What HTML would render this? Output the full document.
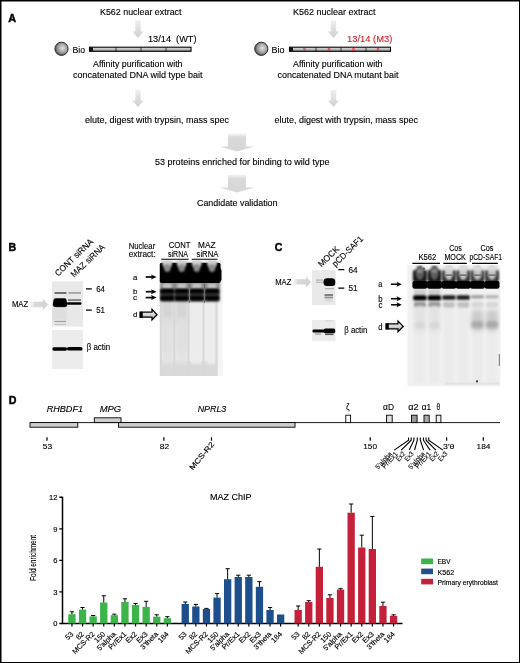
<!DOCTYPE html>
<html><head><meta charset="utf-8"><title>Figure</title>
<style>
html,body{margin:0;padding:0;background:#fff;}
svg{display:block;}
text{font-family:"Liberation Sans",sans-serif;fill:#000;stroke:#000;stroke-width:0.12px;}
.t{font-size:8.7px;}
.m{font-size:8.4px;}
.s{font-size:6.9px;stroke-width:0.1px;}
.l{font-size:8.1px;}
.x{font-size:7.5px;stroke-width:0.15px;}
.b{font-size:10.6px;font-weight:bold;stroke-width:0.45px;}
.i{font-style:italic;}
</style></head><body>
<svg width="520" height="663" viewBox="0 0 520 663">
<defs>
<radialGradient id="sph" cx="0.58" cy="0.45" r="0.62"><stop offset="0" stop-color="#e4e4e4"/><stop offset="0.55" stop-color="#a0a0a0"/><stop offset="1" stop-color="#444"/></radialGradient>
<linearGradient id="bar" x1="0" y1="0" x2="0" y2="1"><stop offset="0" stop-color="#eee"/><stop offset="1" stop-color="#888"/></linearGradient>
<linearGradient id="ga" x1="0" y1="0" x2="0" y2="1"><stop offset="0" stop-color="#efefef"/><stop offset="1" stop-color="#cecece"/></linearGradient>
<filter id="b1" x="-50%" y="-50%" width="200%" height="200%"><feGaussianBlur stdDeviation="1"/></filter>
<filter id="b2" x="-50%" y="-50%" width="200%" height="200%"><feGaussianBlur stdDeviation="2"/></filter>
<filter id="b05" x="-50%" y="-50%" width="200%" height="200%"><feGaussianBlur stdDeviation="0.5"/></filter>
<linearGradient id="ga2" x1="0" y1="0" x2="0" y2="1"><stop offset="0" stop-color="#efefef"/><stop offset="0.14" stop-color="#e6e6e6"/><stop offset="0.16" stop-color="#dadada"/><stop offset="1" stop-color="#d6d6d6"/></linearGradient>
<filter id="b03" x="-50%" y="-50%" width="200%" height="200%"><feGaussianBlur stdDeviation="0.35"/></filter>
<filter id="b07" x="-50%" y="-50%" width="200%" height="200%"><feGaussianBlur stdDeviation="0.7"/></filter>
<filter id="b15" x="-50%" y="-50%" width="200%" height="200%"><feGaussianBlur stdDeviation="1.5"/></filter>
<filter id="b3" x="-50%" y="-50%" width="200%" height="200%"><feGaussianBlur stdDeviation="3"/></filter>
<linearGradient id="gh" x1="0" y1="0" x2="1" y2="0"><stop offset="0" stop-color="#eeeeee"/><stop offset="0.18" stop-color="#e6e6e6"/><stop offset="0.22" stop-color="#d8d8d8"/><stop offset="1" stop-color="#d3d3d3"/></linearGradient>
<linearGradient id="oa" x1="0" y1="0" x2="0" y2="1"><stop offset="0" stop-color="#fff"/><stop offset="1" stop-color="#aaa"/></linearGradient>
<marker id="ah" markerWidth="4" markerHeight="5" refX="0.5" refY="2.5" orient="auto" markerUnits="userSpaceOnUse"><path d="M0 0 L4 2.5 L0 5z" fill="#000"/></marker>
<clipPath id="cB1"><rect x="52" y="281.6" width="31" height="45"/></clipPath>
<clipPath id="cB2"><rect x="52" y="330" width="31" height="39"/></clipPath>
<clipPath id="cB3"><rect x="159.4" y="260.5" width="63.6" height="115.5"/></clipPath>
<clipPath id="cC1"><rect x="312" y="270" width="23.500" height="35"/></clipPath>
<clipPath id="cC2"><rect x="312" y="320" width="23.500" height="21"/></clipPath>
<clipPath id="cC3"><rect x="407.5" y="265.3" width="93" height="121"/></clipPath>
</defs>
<rect x="0" y="0" width="520" height="663" fill="#fff"/>
<!-- PANEL A -->
<g id="panelA">
<text class="b" x="8.3" y="21.600" textLength="7.800" lengthAdjust="spacingAndGlyphs">A</text>
<text class="t" x="100" y="15.2" textLength="81.5" lengthAdjust="spacingAndGlyphs">K562 nuclear extract</text>
<path d="M135.3 20.500 h5.400 v11 h2.800 l-5.500 6.500 l-5.500 -6.500 h2.800z" fill="url(#ga)"/>
<text class="t" x="148" y="41.6" textLength="48.500" lengthAdjust="spacingAndGlyphs" style="white-space:pre">13/14  (WT)</text>
<circle cx="61.5" cy="48.8" r="6.6" fill="url(#sph)" stroke="#2a2a2a" stroke-width="1"/>
<text class="t" x="72.5" y="52.6" textLength="12.5" lengthAdjust="spacingAndGlyphs">Bio</text>
<rect x="89.5" y="47.2" width="101.5" height="4.1" fill="url(#bar)" stroke="#000" stroke-width="1.1"/>
<rect x="89.5" y="47.2" width="3.5" height="4.1" fill="#111"/>
<path d="M116 47.2v4.1M141 47.2v4.1M166 47.2v4.1" stroke="#111" stroke-width="0.8"/>
<text class="t" x="93" y="66.9" textLength="89.5" lengthAdjust="spacingAndGlyphs">Affinity purification with</text>
<text class="t" x="73" y="78" textLength="129.5" lengthAdjust="spacingAndGlyphs">concatenated DNA wild type bait</text>
<path d="M135.3 90 h5.400 v10.500 h2.800 l-5.500 6.500 l-5.500 -6.500 h2.800z" fill="url(#ga)"/>
<text class="t" x="85" y="122.6" textLength="144" lengthAdjust="spacingAndGlyphs">elute, digest with trypsin, mass spec</text>

<text class="t" x="293" y="15.2" textLength="82.5" lengthAdjust="spacingAndGlyphs">K562 nuclear extract</text>
<path d="M330.800 20.500 h5.400 v11 h2.800 l-5.500 6.500 l-5.500 -6.500 h2.800z" fill="url(#ga)"/>
<text class="t" x="347" y="41.6" style="fill:#d2232a;stroke:#d2232a" textLength="45.3" lengthAdjust="spacingAndGlyphs">13/14 (M3)</text>
<circle cx="261.3" cy="48.8" r="6.6" fill="url(#sph)" stroke="#2a2a2a" stroke-width="1"/>
<text class="t" x="271.6" y="52.6" textLength="13" lengthAdjust="spacingAndGlyphs">Bio</text>
<rect x="289.5" y="47.2" width="101" height="4.1" fill="url(#bar)" stroke="#000" stroke-width="1.1"/>
<rect x="289.5" y="47.2" width="3.5" height="4.1" fill="#111"/>
<path d="M316 47.2v4.1M341 47.2v4.1M366 47.2v4.1" stroke="#111" stroke-width="0.8"/>
<path d="M302.9 47.6l3.2 3.4M306.1 47.6l-3.2 3.4M327.4 47.6l3.2 3.4M330.6 47.6l-3.2 3.4M351.9 47.6l3.2 3.4M355.1 47.6l-3.2 3.4M376.4 47.6l3.2 3.4M379.6 47.6l-3.2 3.4" stroke="#d2232a" stroke-width="0.8"/>
<text class="t" x="293" y="66.9" textLength="89.5" lengthAdjust="spacingAndGlyphs">Affinity purification with</text>
<text class="t" x="277.500" y="78" textLength="121" lengthAdjust="spacingAndGlyphs">concatenated DNA mutant bait</text>
<path d="M330.800 90 h5.400 v10.500 h2.800 l-5.500 6.500 l-5.500 -6.500 h2.800z" fill="url(#ga)"/>
<text class="t" x="274.500" y="122.6" textLength="143.500" lengthAdjust="spacingAndGlyphs">elute, digest with trypsin, mass spec</text>

<path d="M228 133.800 h18 v12.700 h8.500 l-17.500 5 l-17.500 -5 h8.500z" fill="url(#ga2)"/>
<text class="t" x="155" y="164.8" textLength="174.500" lengthAdjust="spacingAndGlyphs">53 proteins enriched for binding to wild type</text>
<path d="M228 175 h18 v12.600 h8.500 l-17.500 4.800 l-17.500 -4.800 h8.500z" fill="url(#ga2)"/>
<text class="t" x="197" y="205.8" textLength="80.500" lengthAdjust="spacingAndGlyphs">Candidate validation</text>
</g>
<!-- panelB -->
<g id="panelB">
<text class="b" x="8.4" y="251.4">B</text>
<text class="t" transform="translate(58.2 276.8) rotate(-44)" text-anchor="start" textLength="49.5" lengthAdjust="spacingAndGlyphs">CONT siRNA</text>
<text class="t" transform="translate(74 277.8) rotate(-43.5)" text-anchor="start" textLength="43.5" lengthAdjust="spacingAndGlyphs">MAZ siRNA</text>
<g clip-path="url(#cB1)">
<rect x="52" y="281" width="31" height="47" fill="#e8e8e8"/>
<rect x="54.5" y="292.2" width="12" height="1.6" fill="#555" filter="url(#b05)"/>
<rect x="68.5" y="292.3" width="12.5" height="1.3" fill="#888" filter="url(#b05)"/>
<rect x="53.500" y="298.300" width="13" height="5" rx="2" fill="#000" filter="url(#b07)"/>
<rect x="52.800" y="300.800" width="14.500" height="6.400" rx="3" fill="#000" filter="url(#b07)"/>
<rect x="68" y="299.300" width="13" height="1.500" fill="#6a6a6a" filter="url(#b05)"/>
<rect x="67" y="302.300" width="14.500" height="2.500" rx="1.2" fill="#000" filter="url(#b05)"/>
<rect x="54.5" y="320.800" width="11.500" height="1.3" fill="#9a9a9a" filter="url(#b05)"/>
<rect x="54.5" y="323.800" width="11.500" height="1.2" fill="#c4c4c4" filter="url(#b05)"/>
<rect x="52" y="308" width="15" height="12" fill="#dedede" filter="url(#b1)"/>
</g>
<g clip-path="url(#cB2)">
<rect x="52" y="330" width="31" height="39" fill="#ececec"/>
<rect x="52.3" y="347.300" width="14.800" height="3.400" rx="1.600" fill="#000" filter="url(#b05)"/>
<rect x="67" y="347.100" width="15.500" height="3.400" rx="1.600" fill="#000" filter="url(#b05)"/>
</g>
<path d="M86 288.900h5.800M86 310.200h5.800" stroke="#000" stroke-width="1.3"/>
<text class="t" x="96.2" y="291.8" textLength="8.8" lengthAdjust="spacingAndGlyphs">64</text>
<text class="t" x="96.2" y="312.9" textLength="8.8" lengthAdjust="spacingAndGlyphs">51</text>
<text class="t" x="11.9" y="306.9" textLength="16.4" lengthAdjust="spacingAndGlyphs" style="font-size:9.2px">MAZ</text>
<path d="M30.5 301.700 H43 V298.600 L48 304.400 L43 310.200 V307.300 H30.5z" fill="url(#gh)"/>
<text class="t" x="86.7" y="350.4" textLength="23.5" lengthAdjust="spacingAndGlyphs">β actin</text>
<text class="m" x="128.7" y="248.6" textLength="26.5" lengthAdjust="spacingAndGlyphs">Nuclear</text>
<text class="m" x="128.7" y="257.1" textLength="27" lengthAdjust="spacingAndGlyphs">extract:</text>
<text class="m" x="168.7" y="247.5" textLength="21.8" lengthAdjust="spacingAndGlyphs">CONT</text>
<text class="m" x="168" y="256.6" textLength="20" lengthAdjust="spacingAndGlyphs">siRNA</text>
<text class="m" x="198" y="247.5" textLength="17.5" lengthAdjust="spacingAndGlyphs">MAZ</text>
<text class="m" x="196.5" y="256.6" textLength="22" lengthAdjust="spacingAndGlyphs">siRNA</text>
<path d="M161.200 259.3H188.7M191.7 259.3H217.5" stroke="#000" stroke-width="1.1"/>
<g clip-path="url(#cB3)">
<rect x="159.5" y="260" width="64" height="116" fill="#f5f5f5"/>
<rect x="159.400" y="260" width="58" height="116" fill="#efefef"/>
<rect x="160" y="361" width="57.500" height="16" fill="#d9d9d9" filter="url(#b05)"/>
<rect x="161.3" y="298" width="12" height="66" fill="#e3e3e3" filter="url(#b15)"/>
<rect x="175.7" y="298" width="12" height="66" fill="#e3e3e3" filter="url(#b15)"/>
<rect x="190.8" y="298" width="12" height="66" fill="#ececec" filter="url(#b15)"/>
<rect x="206" y="298" width="12" height="66" fill="#ececec" filter="url(#b15)"/>
<rect x="161.8" y="300" width="11" height="24" fill="#d4d4d4" filter="url(#b2)"/>
<rect x="161.8" y="318" width="11" height="34" fill="#e0e0e0" filter="url(#b2)"/>
<rect x="176.2" y="300" width="11" height="24" fill="#d4d4d4" filter="url(#b2)"/>
<rect x="176.2" y="318" width="11" height="34" fill="#e0e0e0" filter="url(#b2)"/>
<rect x="160" y="300" width="2" height="76" fill="#d8d8d8" filter="url(#b07)"/>
<rect x="173.3" y="300" width="2" height="76" fill="#d8d8d8" filter="url(#b07)"/>
<rect x="187.5" y="300" width="2" height="76" fill="#d8d8d8" filter="url(#b07)"/>
<rect x="202.5" y="300" width="2" height="76" fill="#d8d8d8" filter="url(#b07)"/>
<rect x="215.5" y="300" width="2" height="76" fill="#d8d8d8" filter="url(#b07)"/>
<rect x="160" y="280" width="60" height="22" rx="2" fill="#8a8a8a" filter="url(#b1)"/>
<rect x="162.8" y="283.5" width="9" height="5.500" fill="#c4c4c4" filter="url(#b1)"/>
<rect x="177.2" y="283.5" width="9" height="5.500" fill="#c4c4c4" filter="url(#b1)"/>
<rect x="192.3" y="283.5" width="9" height="5.500" fill="#c4c4c4" filter="url(#b1)"/>
<rect x="207.5" y="283.5" width="9" height="5.500" fill="#c4c4c4" filter="url(#b1)"/>
<rect x="159.600" y="262.800" width="61" height="20.200" rx="2" fill="#000" filter="url(#b07)"/>
<rect x="214" y="268" width="7.500" height="14" rx="3" fill="#000" filter="url(#b07)"/>
<ellipse cx="167.3" cy="262.500" rx="5" ry="5.500" fill="#d0d0d0" filter="url(#b1)"/>
<ellipse cx="167.3" cy="268" rx="3.200" ry="4" fill="#8c8c8c" filter="url(#b1)"/>
<rect x="160.3" y="289.200" width="14" height="11" rx="2" fill="#333" filter="url(#b1)"/>
<rect x="160.3" y="289" width="14" height="4.200" rx="1.500" fill="#000" filter="url(#b1)"/>
<rect x="160.3" y="296" width="14" height="4.500" rx="1.500" fill="#000" filter="url(#b1)"/>
<ellipse cx="181.7" cy="262.500" rx="5" ry="5.500" fill="#d0d0d0" filter="url(#b1)"/>
<ellipse cx="181.7" cy="268" rx="3.200" ry="4" fill="#8c8c8c" filter="url(#b1)"/>
<rect x="174.7" y="289.200" width="14" height="11" rx="2" fill="#333" filter="url(#b1)"/>
<rect x="174.7" y="289" width="14" height="4.200" rx="1.500" fill="#000" filter="url(#b1)"/>
<rect x="174.7" y="296" width="14" height="4.500" rx="1.500" fill="#000" filter="url(#b1)"/>
<ellipse cx="196.8" cy="262.500" rx="5" ry="5.500" fill="#d0d0d0" filter="url(#b1)"/>
<ellipse cx="196.8" cy="268" rx="3.200" ry="4" fill="#8c8c8c" filter="url(#b1)"/>
<rect x="189.8" y="289.200" width="14" height="11" rx="2" fill="#333" filter="url(#b1)"/>
<rect x="189.8" y="289" width="14" height="4.200" rx="1.500" fill="#000" filter="url(#b1)"/>
<rect x="189.8" y="296" width="14" height="4.500" rx="1.500" fill="#000" filter="url(#b1)"/>
<ellipse cx="212" cy="262.500" rx="5" ry="5.500" fill="#d0d0d0" filter="url(#b1)"/>
<ellipse cx="212" cy="268" rx="3.200" ry="4" fill="#8c8c8c" filter="url(#b1)"/>
<rect x="205" y="289.200" width="14" height="11" rx="2" fill="#333" filter="url(#b1)"/>
<rect x="205" y="289" width="14" height="4.200" rx="1.500" fill="#000" filter="url(#b1)"/>
<rect x="205" y="296" width="14" height="4.500" rx="1.500" fill="#000" filter="url(#b1)"/>
<rect x="189" y="284" width="1" height="19" fill="#777" filter="url(#b05)"/>
<rect x="204" y="284" width="1" height="19" fill="#666" filter="url(#b05)"/>
</g>
<text class="l" x="133" y="279.7" textLength="4.4" lengthAdjust="spacingAndGlyphs">a</text>
<text class="l" x="133" y="294.4" textLength="4.4" lengthAdjust="spacingAndGlyphs">b</text>
<text class="l" x="133" y="299.9" textLength="4.1" lengthAdjust="spacingAndGlyphs">c</text>
<text class="l" x="133" y="316.7" textLength="4.4" lengthAdjust="spacingAndGlyphs">d</text>
<path d="M145.7 277H152.5" stroke="#000" stroke-width="1.7"/><path d="M151.0 274.5L156.6 277L151.0 279.5L152.10000000000002 277z" fill="#000"/>
<path d="M145.7 291.7H152.5" stroke="#000" stroke-width="1.7"/><path d="M151.0 289.2L156.6 291.7L151.0 294.2L152.10000000000002 291.7z" fill="#000"/>
<path d="M145.7 297.6H152.5" stroke="#000" stroke-width="1.7"/><path d="M151.0 295.1L156.6 297.6L151.0 300.1L152.10000000000002 297.6z" fill="#000"/>
<path d="M140.200 312.2H152V309.400L157 314.700L152 320V317.200H140.200z" fill="url(#oa)" stroke="#000" stroke-width="1.25"/>
<rect x="139.6" y="311.8" width="3.2" height="6" fill="#000"/>
</g>
<!-- panelC -->
<g id="panelC">
<text class="b" x="274.8" y="251.3">C</text>
<text class="t" transform="translate(321.4 267.6) rotate(-44)" text-anchor="start" textLength="25.5" lengthAdjust="spacingAndGlyphs">MOCK</text>
<text class="t" transform="translate(335.5 267.2) rotate(-44.5)" text-anchor="start" textLength="39.5" lengthAdjust="spacingAndGlyphs">pCD-SAF1</text>
<g clip-path="url(#cC1)">
<rect x="312" y="270" width="24" height="35" fill="#e9e9e9"/>
<rect x="316" y="279.6" width="7" height="0.9" fill="#999" filter="url(#b05)"/>
<rect x="316" y="281.8" width="7" height="0.9" fill="#aaa" filter="url(#b05)"/>
<rect x="323.500" y="278.3" width="12" height="7.800" rx="3.500" fill="#000" filter="url(#b07)"/>
<rect x="325" y="288.300" width="9" height="0.9" fill="#999" filter="url(#b05)"/>
<rect x="324.500" y="294" width="8.500" height="2" fill="#808080" filter="url(#b07)"/>
<rect x="324.500" y="296.600" width="8.500" height="1.800" fill="#909090" filter="url(#b07)"/>
<rect x="325" y="299" width="8" height="3" fill="#dcdcdc" filter="url(#b07)"/>
</g>
<g clip-path="url(#cC2)">
<rect x="312" y="320" width="24" height="21" fill="#ececec"/>
<rect x="312.500" y="329.600" width="12" height="2.800" rx="1.2" fill="#000" filter="url(#b05)"/>
<rect x="323.500" y="328.600" width="12" height="4.600" rx="2" fill="#000" filter="url(#b05)"/>
<rect x="315" y="333.500" width="6" height="1" fill="#888" filter="url(#b05)"/>
<rect x="325" y="333.500" width="8.500" height="1.600" fill="#555" filter="url(#b05)"/>
<rect x="325" y="320.500" width="8" height="0.800" fill="#ccc" filter="url(#b05)"/>
</g>
<path d="M338.300 269.700h6M338.300 288.200h6" stroke="#000" stroke-width="1.3"/>
<text class="t" x="348.5" y="272.6" textLength="9.2" lengthAdjust="spacingAndGlyphs">64</text>
<text class="t" x="348.5" y="291" textLength="9.2" lengthAdjust="spacingAndGlyphs">51</text>
<text class="t" x="275.2" y="284.5" textLength="16.2" lengthAdjust="spacingAndGlyphs" style="font-size:9px">MAZ</text>
<path d="M293.800 279.200 H306 V276.200 L311 281.900 L306 287.700 V284.400 H293.800z" fill="url(#gh)"/>
<text class="t" x="344.3" y="332.8" textLength="23" lengthAdjust="spacingAndGlyphs">β actin</text>
<text class="m" x="418.5" y="260.4" textLength="17.8" lengthAdjust="spacingAndGlyphs">K562</text>
<text class="m" x="449.3" y="250.9" textLength="12.4" lengthAdjust="spacingAndGlyphs">Cos</text>
<text class="m" x="444.4" y="260.4" textLength="21.4" lengthAdjust="spacingAndGlyphs">MOCK</text>
<text class="m" x="480.5" y="250.9" textLength="13" lengthAdjust="spacingAndGlyphs">Cos</text>
<text class="m" x="469.5" y="260.4" textLength="32.5" lengthAdjust="spacingAndGlyphs">pCD-SAF1</text>
<path d="M412.400 263.400H440M443.300 263.400H466.800M472 263.400H497.800" stroke="#000" stroke-width="1.1"/>
<g clip-path="url(#cC3)">
<rect x="407" y="265" width="94" height="122" fill="#f1f1f1"/>
<rect x="414.4" y="296" width="11" height="88" fill="#ebebeb" filter="url(#b15)"/>
<rect x="428.9" y="296" width="11" height="88" fill="#ebebeb" filter="url(#b15)"/>
<rect x="443.4" y="296" width="11" height="88" fill="#ebebeb" filter="url(#b15)"/>
<rect x="457.7" y="296" width="11" height="88" fill="#ebebeb" filter="url(#b15)"/>
<rect x="472.0" y="296" width="11" height="88" fill="#ebebeb" filter="url(#b15)"/>
<rect x="486.5" y="296" width="11" height="88" fill="#ebebeb" filter="url(#b15)"/>
<rect x="412.9" y="270" width="14" height="12" rx="2" fill="#151515" filter="url(#b1)"/>
<ellipse cx="419.9" cy="272.500" rx="4.300" ry="7.500" fill="#5c5c5c" filter="url(#b1)"/>
<ellipse cx="419.9" cy="271" rx="2.800" ry="2.200" fill="#8a8a8a" filter="url(#b1)"/>
<rect x="413.9" y="289" width="12" height="6.500" fill="#cfcfcf" filter="url(#b1)"/>
<rect x="427.4" y="270" width="14" height="12" rx="2" fill="#151515" filter="url(#b1)"/>
<ellipse cx="434.4" cy="272.500" rx="4.300" ry="7.500" fill="#5c5c5c" filter="url(#b1)"/>
<ellipse cx="434.4" cy="271" rx="2.800" ry="2.200" fill="#8a8a8a" filter="url(#b1)"/>
<rect x="428.4" y="289" width="12" height="6.500" fill="#cfcfcf" filter="url(#b1)"/>
<rect x="441.9" y="270" width="14" height="12" rx="2" fill="#333" filter="url(#b1)"/>
<ellipse cx="448.9" cy="272.500" rx="4.300" ry="7.500" fill="#c8c8c8" filter="url(#b1)"/>
<ellipse cx="448.9" cy="268.500" rx="5.500" ry="2.500" fill="#dcdcdc" filter="url(#b1)"/>
<rect x="444.4" y="274.300" width="9" height="1.700" fill="#777" filter="url(#b07)"/>
<rect x="456.2" y="270" width="14" height="12" rx="2" fill="#333" filter="url(#b1)"/>
<ellipse cx="463.2" cy="272.500" rx="4.300" ry="7.500" fill="#c8c8c8" filter="url(#b1)"/>
<ellipse cx="463.2" cy="268.500" rx="5.500" ry="2.500" fill="#dcdcdc" filter="url(#b1)"/>
<rect x="458.7" y="274.300" width="9" height="1.700" fill="#777" filter="url(#b07)"/>
<rect x="470.5" y="270" width="14" height="12" rx="2" fill="#3a3a3a" filter="url(#b1)"/>
<ellipse cx="477.5" cy="272.500" rx="4.300" ry="7.500" fill="#c2c2c2" filter="url(#b1)"/>
<ellipse cx="477.5" cy="268.500" rx="5.500" ry="2.500" fill="#dcdcdc" filter="url(#b1)"/>
<rect x="473.0" y="274.300" width="9" height="1.700" fill="#777" filter="url(#b07)"/>
<rect x="485" y="270" width="14" height="12" rx="2" fill="#3a3a3a" filter="url(#b1)"/>
<ellipse cx="492" cy="272.500" rx="4.300" ry="7.500" fill="#c2c2c2" filter="url(#b1)"/>
<ellipse cx="492" cy="268.500" rx="5.500" ry="2.500" fill="#dcdcdc" filter="url(#b1)"/>
<rect x="487.5" y="274.300" width="9" height="1.700" fill="#777" filter="url(#b07)"/>
<rect x="412.4" y="280.800" width="15" height="8" rx="2.500" fill="#000" filter="url(#b07)"/>
<rect x="426.9" y="280.800" width="15" height="8" rx="2.500" fill="#000" filter="url(#b07)"/>
<rect x="441.4" y="280.800" width="15" height="8" rx="2.500" fill="#000" filter="url(#b07)"/>
<rect x="455.7" y="280.800" width="15" height="8" rx="2.500" fill="#000" filter="url(#b07)"/>
<rect x="470.0" y="280.800" width="15" height="8" rx="2.500" fill="#000" filter="url(#b07)"/>
<rect x="484.5" y="280.800" width="15" height="8" rx="2.500" fill="#000" filter="url(#b07)"/>
<rect x="413.09999999999997" y="295.200" width="13.600" height="5.2" rx="2" fill="#000" filter="url(#b1)"/>
<rect x="413.9" y="302" width="12" height="5.500" rx="2" fill="#8c8c8c" filter="url(#b1)"/>
<rect x="427.59999999999997" y="295.200" width="13.600" height="5.2" rx="2" fill="#000" filter="url(#b1)"/>
<rect x="428.4" y="302" width="12" height="5.500" rx="2" fill="#8c8c8c" filter="url(#b1)"/>
<rect x="442.09999999999997" y="295.200" width="13.600" height="4.6" rx="2" fill="#1a1a1a" filter="url(#b1)"/>
<rect x="442.9" y="302" width="12" height="5.500" rx="2" fill="#c0c0c0" filter="url(#b1)"/>
<rect x="456.4" y="295.200" width="13.600" height="4.6" rx="2" fill="#1a1a1a" filter="url(#b1)"/>
<rect x="457.2" y="302" width="12" height="5.500" rx="2" fill="#c0c0c0" filter="url(#b1)"/>
<rect x="470.7" y="295.200" width="13.600" height="3" rx="2" fill="#9a9a9a" filter="url(#b1)"/>
<rect x="471.5" y="302" width="12" height="5.500" rx="2" fill="#d8d8d8" filter="url(#b1)"/>
<rect x="485.2" y="295.200" width="13.600" height="3" rx="2" fill="#b0b0b0" filter="url(#b1)"/>
<rect x="486" y="302" width="12" height="5.500" rx="2" fill="#d8d8d8" filter="url(#b1)"/>
<rect x="414.4" y="306" width="11" height="26" rx="3" fill="#e2e2e2" filter="url(#b2)"/>
<rect x="414.9" y="322" width="10" height="6" rx="3" fill="#d6d6d6" filter="url(#b15)"/>
<rect x="428.9" y="306" width="11" height="26" rx="3" fill="#e2e2e2" filter="url(#b2)"/>
<rect x="429.4" y="322" width="10" height="6" rx="3" fill="#d6d6d6" filter="url(#b15)"/>
<rect x="471.5" y="310" width="12" height="21" rx="4" fill="#cccccc" filter="url(#b2)"/>
<rect x="471.5" y="321" width="12" height="7" rx="3" fill="#aaaaaa" filter="url(#b15)"/>
<rect x="486" y="310" width="12" height="21" rx="4" fill="#cccccc" filter="url(#b2)"/>
<rect x="486" y="321" width="12" height="7" rx="3" fill="#aaaaaa" filter="url(#b15)"/>
<ellipse cx="477" cy="381.500" rx="1" ry="1.600" fill="#333" filter="url(#b05)"/>
<rect x="498.800" y="354" width="1.200" height="12" fill="#888" filter="url(#b05)"/>
<rect x="445" y="382.500" width="54" height="2" fill="#e2e2e2" filter="url(#b07)"/>
<circle cx="424" cy="268.500" r="0.8" fill="#222" filter="url(#b03)"/>
</g>
<text class="m" x="378.2" y="287.4" textLength="4.1" lengthAdjust="spacingAndGlyphs">a</text>
<text class="m" x="378.2" y="301.5" textLength="4.3" lengthAdjust="spacingAndGlyphs">b</text>
<text class="m" x="378.4" y="307.6" textLength="4" lengthAdjust="spacingAndGlyphs">c</text>
<text class="m" x="378.2" y="329.6" textLength="4.3" lengthAdjust="spacingAndGlyphs">d</text>
<path d="M391 284.2H398" stroke="#000" stroke-width="1.5"/><path d="M396.5 281.7L401.8 284.2L396.5 286.7L397.6 284.2z" fill="#000"/>
<path d="M391 298.7H398" stroke="#000" stroke-width="1.5"/><path d="M396.5 296.2L401.8 298.7L396.5 301.2L397.6 298.7z" fill="#000"/>
<path d="M391 304.8H398" stroke="#000" stroke-width="1.5"/><path d="M396.5 302.3L401.8 304.8L396.5 307.3L397.6 304.8z" fill="#000"/>
<path d="M386.200 323.900H398V321.100L403.200 326.400L398 331.700V328.900H386.200z" fill="url(#oa)" stroke="#000" stroke-width="1.25"/>
<rect x="385.6" y="323.400" width="3.200" height="6" fill="#000"/>
</g>
<!-- panelD -->
<g id="panelD">
<text class="b" x="8.7" y="403.7">D</text>
<path d="M30 422.600H500" stroke="#000" stroke-width="0.9"/>
<rect x="30" y="422.6" width="47.8" height="4.6" fill="#cfcfcf" stroke="#000" stroke-width="0.9"/>
<rect x="94.3" y="417.8" width="26.7" height="4.8" fill="#cfcfcf" stroke="#000" stroke-width="0.9"/>
<rect x="118.5" y="422.6" width="176.5" height="4.6" fill="#cfcfcf" stroke="#000" stroke-width="0.9"/>
<rect x="345.8" y="415.2" width="4.8" height="7.4" fill="#fff" stroke="#000" stroke-width="0.9"/>
<rect x="386.6" y="415.2" width="5.6" height="7.4" fill="#e0e0e0" stroke="#000" stroke-width="0.9"/>
<rect x="411.5" y="415.2" width="5.6" height="7.4" fill="#999" stroke="#000" stroke-width="0.9"/>
<rect x="424" y="415.2" width="5.2" height="7.4" fill="#aaa" stroke="#000" stroke-width="0.9"/>
<rect x="436.2" y="415.2" width="4.7" height="7.4" fill="#eee" stroke="#000" stroke-width="0.9"/>
<text class="t i" x="46.7" y="411.5" textLength="36.3" lengthAdjust="spacingAndGlyphs">RHBDF1</text>
<text class="t i" x="99.7" y="411.5" textLength="21.5" lengthAdjust="spacingAndGlyphs">MPG</text>
<text class="t i" x="197.7" y="411.5" textLength="28.6" lengthAdjust="spacingAndGlyphs">NPRL3</text>
<text class="t" x="346" y="409.6" textLength="3.6" lengthAdjust="spacingAndGlyphs">ζ</text>
<text class="t" x="383" y="409.6" textLength="11" lengthAdjust="spacingAndGlyphs">αD</text>
<text class="t" x="408.2" y="409.6" textLength="10.4" lengthAdjust="spacingAndGlyphs">α2</text>
<text class="t" x="421.7" y="409.6" textLength="9.4" lengthAdjust="spacingAndGlyphs">α1</text>
<text class="t" x="436.6" y="409.6" textLength="3.6" lengthAdjust="spacingAndGlyphs">θ</text>
<path d="M47 437.2v3.600M163.9 437.2v3.600M211.5 437.2v3.600M370.2 437.2v3.600M446.6 437.2v3.600M483.3 437.2v3.600" stroke="#000" stroke-width="1.2"/>
<text class="l" x="42.8" y="449" textLength="9.4" lengthAdjust="spacingAndGlyphs">53</text>
<text class="l" x="159.8" y="449" textLength="9.4" lengthAdjust="spacingAndGlyphs">82</text>
<text class="l" x="363.2" y="449" textLength="13.8" lengthAdjust="spacingAndGlyphs">150</text>
<text class="l" x="443.1" y="449" textLength="11.4" lengthAdjust="spacingAndGlyphs">3'θ</text>
<text class="l" x="476.6" y="449" textLength="13.8" lengthAdjust="spacingAndGlyphs">184</text>
<text class="x" transform="translate(214.6 444.5) rotate(-50)" text-anchor="end" textLength="34" lengthAdjust="spacingAndGlyphs">MCS-R2</text>
<path d="M408.6 437.4V440.2L394.2 450.1M411.2 437.4V440.2L401.2 450.1M413.9 437.4V440.2L409.2 450.1M417.3 437.4V440.2L414.6 450.1M420.3 437.4V440.2L423.6 450.1M423.4 437.4V440.2L430.1 450.1M426 437.4V440.2L435.9 450.1M428.7 437.4V440.2L442.9 450.1" stroke="#000" stroke-width="1.1" fill="none"/>
<text class="s" transform="translate(392.3 454.2) rotate(-48)" text-anchor="end" textLength="21" lengthAdjust="spacingAndGlyphs">5'alpha</text>
<text class="s" transform="translate(398.2 454.2) rotate(-48)" text-anchor="end" textLength="20" lengthAdjust="spacingAndGlyphs">Pr/Ex1</text>
<text class="s" transform="translate(405.6 454.2) rotate(-48)" text-anchor="end" textLength="10" lengthAdjust="spacingAndGlyphs">Ex2</text>
<text class="s" transform="translate(414.2 454.2) rotate(-48)" text-anchor="end" textLength="10" lengthAdjust="spacingAndGlyphs">Ex3</text>
<text class="s" transform="translate(425.3 454.2) rotate(-48)" text-anchor="end" textLength="21" lengthAdjust="spacingAndGlyphs">5'alpha</text>
<text class="s" transform="translate(431.5 454.2) rotate(-48)" text-anchor="end" textLength="20" lengthAdjust="spacingAndGlyphs">Pr/Ex1</text>
<text class="s" transform="translate(439.2 454.2) rotate(-48)" text-anchor="end" textLength="10" lengthAdjust="spacingAndGlyphs">Ex2</text>
<text class="s" transform="translate(447.8 454.2) rotate(-48)" text-anchor="end" textLength="10" lengthAdjust="spacingAndGlyphs">Ex3</text>
<text class="t" x="210" y="499.6" textLength="41.5" lengthAdjust="spacingAndGlyphs">MAZ ChIP</text>
<path d="M62.5 496.700V623.500H402.5" stroke="#000" stroke-width="1.5" fill="none"/>
<text class="x" x="57.4" y="626.4" text-anchor="end">0</text>
<text class="x" x="57.4" y="594.84" text-anchor="end">3</text>
<text class="x" x="57.4" y="563.28" text-anchor="end">6</text>
<text class="x" x="57.4" y="531.72" text-anchor="end">9</text>
<text class="x" x="57.4" y="500.16" text-anchor="end">12</text>
<path d="M59.3 623.5H62.5M59.3 591.94H62.5M59.3 560.38H62.5M59.3 528.82H62.5M59.3 497.26H62.5" stroke="#000" stroke-width="1.3"/>
<text class="t" transform="translate(36 558) rotate(-90)" text-anchor="middle" textLength="46" lengthAdjust="spacingAndGlyphs">Fold enrichment</text>
<rect x="68.3" y="614.2" width="7.3" height="9.3" fill="#3bb44a"/>
<text class="x" transform="translate(73.85 634.6) rotate(-45)" text-anchor="end" style="font-size:7.3px">53</text>
<rect x="78.9" y="609.6" width="7.3" height="13.9" fill="#3bb44a"/>
<text class="x" transform="translate(84.45 634.6) rotate(-45)" text-anchor="end" style="font-size:7.3px">82</text>
<rect x="89.5" y="616.4" width="7.3" height="7.1" fill="#3bb44a"/>
<text class="x" transform="translate(95.05 634.6) rotate(-45)" text-anchor="end" style="font-size:7.3px">MCS-R2</text>
<rect x="100.1" y="602.5" width="7.3" height="21.0" fill="#3bb44a"/>
<text class="x" transform="translate(105.65 634.6) rotate(-45)" text-anchor="end" style="font-size:7.3px">150</text>
<rect x="110.7" y="615.2" width="7.3" height="8.3" fill="#3bb44a"/>
<text class="x" transform="translate(116.25 634.6) rotate(-45)" text-anchor="end" style="font-size:7.3px">5'alpha</text>
<rect x="121.3" y="602" width="7.3" height="21.5" fill="#3bb44a"/>
<text class="x" transform="translate(126.85 634.6) rotate(-45)" text-anchor="end" style="font-size:7.3px">Pr/Ex1</text>
<rect x="131.9" y="605" width="7.3" height="18.5" fill="#3bb44a"/>
<text class="x" transform="translate(137.45 634.6) rotate(-45)" text-anchor="end" style="font-size:7.3px">Ex2</text>
<rect x="142.5" y="606.8" width="7.3" height="16.7" fill="#3bb44a"/>
<text class="x" transform="translate(148.05 634.6) rotate(-45)" text-anchor="end" style="font-size:7.3px">Ex3</text>
<rect x="153.1" y="616.7" width="7.3" height="6.8" fill="#3bb44a"/>
<text class="x" transform="translate(158.65 634.6) rotate(-45)" text-anchor="end" style="font-size:7.3px">3'theta</text>
<rect x="163.7" y="618.2" width="7.3" height="5.3" fill="#3bb44a"/>
<text class="x" transform="translate(169.25 634.6) rotate(-45)" text-anchor="end" style="font-size:7.3px">184</text>
<rect x="181.6" y="604" width="7.3" height="19.5" fill="#1c4f8b"/>
<text class="x" transform="translate(187.15 634.6) rotate(-45)" text-anchor="end" style="font-size:7.3px">53</text>
<rect x="192.2" y="606.5" width="7.3" height="17.0" fill="#1c4f8b"/>
<text class="x" transform="translate(197.75 634.6) rotate(-45)" text-anchor="end" style="font-size:7.3px">82</text>
<rect x="202.8" y="609" width="7.3" height="14.5" fill="#1c4f8b"/>
<text class="x" transform="translate(208.35 634.6) rotate(-45)" text-anchor="end" style="font-size:7.3px">MCS-R2</text>
<rect x="213.4" y="597.6" width="7.3" height="25.9" fill="#1c4f8b"/>
<text class="x" transform="translate(218.95 634.6) rotate(-45)" text-anchor="end" style="font-size:7.3px">150</text>
<rect x="224.0" y="579.2" width="7.3" height="44.3" fill="#1c4f8b"/>
<text class="x" transform="translate(229.55 634.6) rotate(-45)" text-anchor="end" style="font-size:7.3px">5'alpha</text>
<rect x="234.6" y="577" width="7.3" height="46.5" fill="#1c4f8b"/>
<text class="x" transform="translate(240.15 634.6) rotate(-45)" text-anchor="end" style="font-size:7.3px">Pr/Ex1</text>
<rect x="245.2" y="577" width="7.3" height="46.5" fill="#1c4f8b"/>
<text class="x" transform="translate(250.75 634.6) rotate(-45)" text-anchor="end" style="font-size:7.3px">Ex2</text>
<rect x="255.8" y="586.8" width="7.3" height="36.7" fill="#1c4f8b"/>
<text class="x" transform="translate(261.35 634.6) rotate(-45)" text-anchor="end" style="font-size:7.3px">Ex3</text>
<rect x="266.4" y="610" width="7.3" height="13.5" fill="#1c4f8b"/>
<text class="x" transform="translate(271.95 634.6) rotate(-45)" text-anchor="end" style="font-size:7.3px">3'theta</text>
<rect x="277.0" y="614.5" width="7.3" height="9.0" fill="#1c4f8b"/>
<text class="x" transform="translate(282.55 634.6) rotate(-45)" text-anchor="end" style="font-size:7.3px">184</text>
<rect x="294.5" y="610" width="7.3" height="13.5" fill="#c5203a"/>
<text class="x" transform="translate(300.05 634.6) rotate(-45)" text-anchor="end" style="font-size:7.3px">53</text>
<rect x="305.1" y="602" width="7.3" height="21.5" fill="#c5203a"/>
<text class="x" transform="translate(310.65 634.6) rotate(-45)" text-anchor="end" style="font-size:7.3px">82</text>
<rect x="315.7" y="566.8" width="7.3" height="56.7" fill="#c5203a"/>
<text class="x" transform="translate(321.25 634.6) rotate(-45)" text-anchor="end" style="font-size:7.3px">MCS-R2</text>
<rect x="326.3" y="598" width="7.3" height="25.5" fill="#c5203a"/>
<text class="x" transform="translate(331.85 634.6) rotate(-45)" text-anchor="end" style="font-size:7.3px">150</text>
<rect x="336.9" y="589.6" width="7.3" height="33.9" fill="#c5203a"/>
<text class="x" transform="translate(342.45 634.6) rotate(-45)" text-anchor="end" style="font-size:7.3px">5'alpha</text>
<rect x="347.5" y="512.7" width="7.3" height="110.8" fill="#c5203a"/>
<text class="x" transform="translate(353.05 634.6) rotate(-45)" text-anchor="end" style="font-size:7.3px">Pr/Ex1</text>
<rect x="358.1" y="547.5" width="7.3" height="76.0" fill="#c5203a"/>
<text class="x" transform="translate(363.65 634.6) rotate(-45)" text-anchor="end" style="font-size:7.3px">Ex2</text>
<rect x="368.7" y="549" width="7.3" height="74.5" fill="#c5203a"/>
<text class="x" transform="translate(374.25 634.6) rotate(-45)" text-anchor="end" style="font-size:7.3px">Ex3</text>
<rect x="379.3" y="606" width="7.3" height="17.5" fill="#c5203a"/>
<text class="x" transform="translate(384.85 634.6) rotate(-45)" text-anchor="end" style="font-size:7.3px">3'theta</text>
<rect x="389.9" y="615.8" width="7.3" height="7.7" fill="#c5203a"/>
<text class="x" transform="translate(395.45 634.6) rotate(-45)" text-anchor="end" style="font-size:7.3px">184</text>
<path d="M71.95 614.2V611.8M69.85 611.8H74.05M82.55 609.6V607.5M80.45 607.5H84.65M93.15 616.4V615.5M91.05 615.5H95.25M103.75 602.5V595.8M101.65 595.8H105.85M114.35 615.2V614.2M112.25 614.2H116.45M124.95 602V598.8M122.85 598.8H127.05M135.55 605V603.5M133.45 603.5H137.65M146.15 606.8V601.3M144.05 601.3H148.25M156.75 616.7V614.8M154.65 614.8H158.85M167.35 618.2V616.7M165.25 616.7H169.45M185.25 604V602M183.15 602H187.35M195.85 606.5V604.4M193.75 604.4H197.95M206.45 609V608.4M204.35 608.4H208.55M217.05 597.6V593.6M214.95 593.6H219.15M227.65 579.2V568.7M225.55 568.7H229.75M238.25 577V575.2M236.15 575.2H240.35M248.85 577V575.2M246.75 575.2H250.95M259.45 586.8V581.6M257.35 581.6H261.55M270.05 610V607.5M267.95 607.5H272.15M298.15 610V606M296.05 606H300.25M308.75 602V600.7M306.65 600.7H310.85M319.35 566.8V549M317.25 549H321.45M329.95 598V594.8M327.85 594.8H332.05M340.55 589.6V588.7M338.45 588.7H342.65M351.15 512.7V504M349.05 504H353.25M361.75 547.5V535.2M359.65 535.2H363.85M372.35 549V516.4M370.25 516.4H374.45M382.95 606V602.2M380.85 602.2H385.05M393.55 615.8V614.8M391.45 614.8H395.65" stroke="#000" stroke-width="1" fill="none"/>
<path d="M71.95 623.5V626.6M82.55 623.5V626.6M93.15 623.5V626.6M103.75 623.5V626.6M114.35 623.5V626.6M124.95 623.5V626.6M135.55 623.5V626.6M146.15 623.5V626.6M156.75 623.5V626.6M167.35 623.5V626.6M185.25 623.5V626.6M195.85 623.5V626.6M206.45 623.5V626.6M217.05 623.5V626.6M227.65 623.5V626.6M238.25 623.5V626.6M248.85 623.5V626.6M259.45 623.5V626.6M270.05 623.5V626.6M280.65 623.5V626.6M298.15 623.5V626.6M308.75 623.5V626.6M319.35 623.5V626.6M329.95 623.5V626.6M340.55 623.5V626.6M351.15 623.5V626.6M361.75 623.5V626.6M372.35 623.5V626.6M382.95 623.5V626.6M393.55 623.5V626.6" stroke="#000" stroke-width="1.2" fill="none"/>
<rect x="421.2" y="558.5" width="11.8" height="5.700" fill="#3bb44a"/>
<rect x="421.2" y="568.600" width="11.8" height="5.600" fill="#1c4f8b"/>
<rect x="421.2" y="578.800" width="11.8" height="5.600" fill="#c5203a"/>
<text class="x" x="437.5" y="564.4" textLength="13" lengthAdjust="spacingAndGlyphs">EBV</text>
<text class="x" x="437.5" y="574.8" textLength="16.6" lengthAdjust="spacingAndGlyphs">K562</text>
<text class="x" x="437.5" y="584.8" textLength="60.5" lengthAdjust="spacingAndGlyphs">Primary erythroblast</text>
</g>
<!-- border -->
<path d="M0.75 0 V663" stroke="#000" stroke-width="1.5"/>
<path d="M0 0.75 H520" stroke="#000" stroke-width="1.5"/>
<path d="M519.5 0 V663" stroke="#000" stroke-width="1"/>
<path d="M0 662.5 H520" stroke="#000" stroke-width="1"/>
</svg>
</body></html>
